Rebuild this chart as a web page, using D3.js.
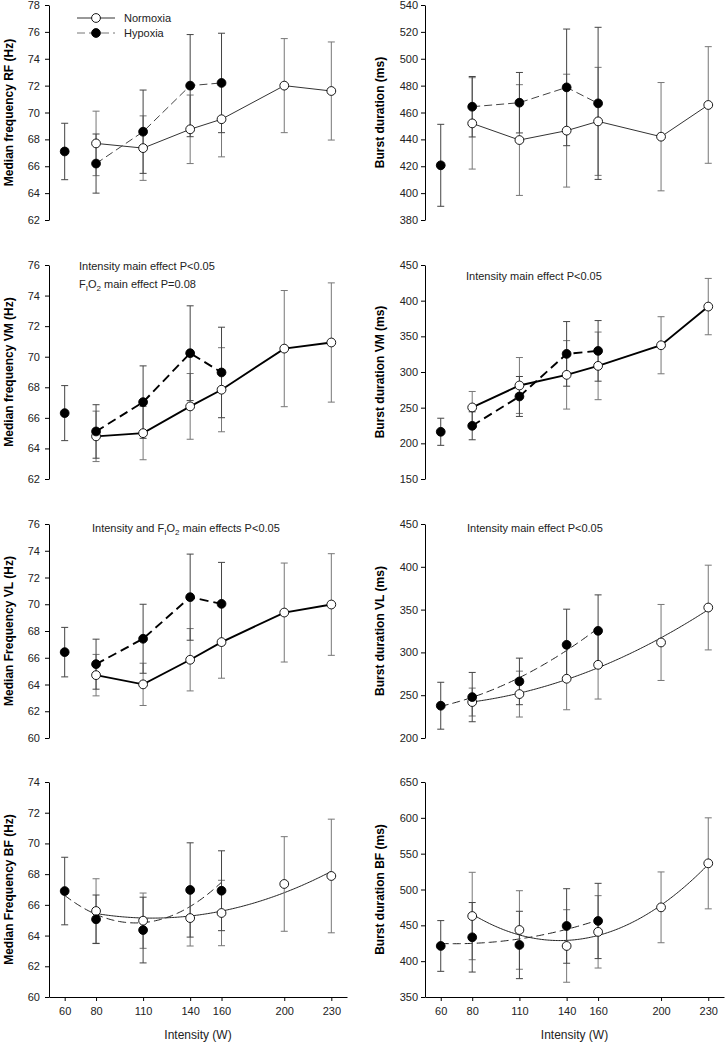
<!DOCTYPE html>
<html>
<head>
<meta charset="utf-8">
<script src="https://cdn.jsdelivr.net/npm/d3@7"></script>
<style>
  body { margin: 0; background: #fff; }
  svg text { font-family: "Liberation Sans", Arial, sans-serif; }
  .axis path, .axis line { stroke: #000; }
</style>
</head>
<body>
<div id="vis"></div>
<script>
// intensities (W)
const hypX = [60, 80, 110, 140, 160];
const normX = [80, 110, 140, 160, 200, 230];
const xTicks = [60, 80, 110, 140, 160, 200, 230];

// RF median frequency (Hz)
const rfHzNorm = [67.7, 67.35, 68.75, 69.5, 72.0, 71.6];
const rfHzNormSd = [2.4, 2.4, 2.55, 2.8, 3.5, 3.65];
const rfHzHyp = [67.1, 66.2, 68.57, 72.0, 72.2];
const rfHzHypSd = [2.1, 2.2, 3.1, 3.8, 3.7];

// RF burst duration (ms)
const rfMsNorm = [451.9, 439.5, 446.5, 453.4, 442.0, 465.6];
const rfMsNormSd = [34, 41.2, 42, 40.2, 40.3, 43.4];
const rfMsHyp = [420.7, 464.3, 467.3, 478.7, 466.8];
const rfMsHypSd = [30.5, 22.5, 22.5, 43.4, 56.6];

// VM median frequency (Hz)
const vmHzNorm = [64.79, 65.0, 66.75, 67.84, 70.53, 70.93];
const vmHzNormSd = [1.65, 1.74, 2.15, 2.75, 3.8, 3.9];
const vmHzHyp = [66.31, 65.11, 67.03, 70.23, 68.97];
const vmHzHypSd = [1.8, 1.75, 2.37, 3.1, 2.96];

// VM burst duration (ms)
const vmMsNorm = [250.3, 281.1, 296, 308.6, 337.5, 391.7];
const vmMsNormSd = [22.4, 39.2, 48, 47.4, 40, 39.5];
const vmMsHyp = [216.2, 224.6, 265.7, 325.4, 329.6];
const vmMsHypSd = [19, 19.6, 28, 45.3, 42.5];

// VL median frequency (Hz)
const vlHzNorm = [64.7, 64.01, 65.85, 67.17, 69.38, 69.98];
const vlHzNormSd = [1.55, 1.58, 2.33, 2.7, 3.7, 3.8];
const vlHzHyp = [66.42, 65.52, 67.42, 70.53, 70.03];
const vlHzHypSd = [1.85, 1.87, 2.58, 3.22, 3.1];

// VL burst duration (ms)
const vlMsNorm = [242, 251.3, 269.2, 285.5, 311.6, 352.4];
const vlMsNormSd = [16.3, 26.8, 36.2, 40, 44.4, 49.5];
const vlMsHyp = [237.7, 247.8, 266.1, 308.9, 325.2];
const vlMsHypSd = [27.4, 28.8, 27.2, 41.6, 42];

// BF median frequency (Hz)
const bfHzNorm = [65.6, 64.97, 65.14, 65.47, 67.36, 67.88];
const bfHzNormSd = [2.1, 1.8, 1.82, 2.13, 3.08, 3.7];
const bfHzHyp = [66.9, 65.06, 64.36, 66.97, 66.92];
const bfHzHypSd = [2.2, 1.58, 2.14, 3.07, 2.6];

// BF burst duration (ms)
const bfMsNorm = [463, 443.5, 421.2, 440.9, 475.1, 536.5];
const bfMsNormSd = [61, 54.8, 50.6, 50.5, 49.4, 63.5];
const bfMsHyp = [421.2, 433.3, 422.6, 449.1, 456.1];
const bfMsHypSd = [35.4, 48.5, 47, 52, 52.5];

const W = 726, H = 1043;
const rows = [[5, 220], [265, 479], [524, 738], [782, 997]];
const cols = [[49, 347], [425, 724]];
const xDomain = [50, 240];

// mode: thin / thick = points joined, fit = quadratic regression line
const panels = [
    { row: 0, col: 0, y: [62, 78], step: 2, label: 'Median frequency RF (Hz)', norm: rfHzNorm, normSd: rfHzNormSd, hyp: rfHzHyp, hypSd: rfHzHypSd, mode: 'thin' },
    { row: 0, col: 1, y: [380, 540], step: 20, label: 'Burst duration (ms)', norm: rfMsNorm, normSd: rfMsNormSd, hyp: rfMsHyp, hypSd: rfMsHypSd, mode: 'thin' },
    { row: 1, col: 0, y: [62, 76], step: 2, label: 'Median frequency VM (Hz)', norm: vmHzNorm, normSd: vmHzNormSd, hyp: vmHzHyp, hypSd: vmHzHypSd, mode: 'thick' },
    { row: 1, col: 1, y: [150, 450], step: 50, label: 'Burst duration VM (ms)', norm: vmMsNorm, normSd: vmMsNormSd, hyp: vmMsHyp, hypSd: vmMsHypSd, mode: 'thick' },
    { row: 2, col: 0, y: [60, 76], step: 2, label: 'Median Frequency VL (Hz)', norm: vlHzNorm, normSd: vlHzNormSd, hyp: vlHzHyp, hypSd: vlHzHypSd, mode: 'thick' },
    { row: 2, col: 1, y: [200, 450], step: 50, label: 'Burst duration VL (ms)', norm: vlMsNorm, normSd: vlMsNormSd, hyp: vlMsHyp, hypSd: vlMsHypSd, mode: 'fit' },
    { row: 3, col: 0, y: [60, 74], step: 2, label: 'Median Frequency BF (Hz)', norm: bfHzNorm, normSd: bfHzNormSd, hyp: bfHzHyp, hypSd: bfHzHypSd, mode: 'fit', xaxis: true },
    { row: 3, col: 1, y: [350, 650], step: 50, label: 'Burst duration BF (ms)', norm: bfMsNorm, normSd: bfMsNormSd, hyp: bfMsHyp, hypSd: bfMsHypSd, mode: 'fit', xaxis: true }
];

const svg = d3.select('#vis').append('svg').attr('width', W).attr('height', H);

// least squares quadratic, returns function
function quadFit(xs, ys) {
    const S = [0, 0, 0, 0, 0], T = [0, 0, 0];
    xs.forEach((x, i) => {
        for (let k = 0; k < 5; k++) S[k] += Math.pow(x, k);
        for (let k = 0; k < 3; k++) T[k] += ys[i] * Math.pow(x, k);
    });
    const A = [[S[0], S[1], S[2], T[0]], [S[1], S[2], S[3], T[1]], [S[2], S[3], S[4], T[2]]];
    for (let i = 0; i < 3; i++) {
        for (let j = i + 1; j < 3; j++) {
            const f = A[j][i] / A[i][i];
            for (let k = i; k < 4; k++) A[j][k] -= f * A[i][k];
        }
    }
    const c = [0, 0, 0];
    for (let i = 2; i >= 0; i--) {
        let s = A[i][3];
        for (let k = i + 1; k < 3; k++) s -= A[i][k] * c[k];
        c[i] = s / A[i][i];
    }
    return x => c[0] + c[1] * x + c[2] * x * x;
}

panels.forEach(p => {
    const [x0, x1] = cols[p.col];
    const [yTop, yBot] = rows[p.row];
    const xs = d3.scaleLinear().domain(xDomain).range([x0, x1]);
    const ys = d3.scaleLinear().domain(p.y).range([yBot, yTop]);
    const g = svg.append('g');

    // y axis
    const yAxis = d3.axisLeft(ys)
        .tickValues(d3.range(p.y[0], p.y[1] + p.step / 2, p.step))
        .tickSize(4).tickSizeOuter(0).tickPadding(p.col === 0 ? 5 : 3)
        .tickFormat(d3.format('d'));
    g.append('g').attr('class', 'axis').attr('transform', `translate(${x0},0)`).call(yAxis)
        .call(a => a.selectAll('text').attr('font-size', 11).attr('fill', '#222'));

    g.append('text')
        .attr('transform', `translate(${p.col === 0 ? 13 : 384},${(yTop + yBot) / 2}) rotate(-90)`)
        .attr('text-anchor', 'middle').attr('font-size', 12).attr('font-weight', 'bold')
        .text(p.label);

    if (p.xaxis) {
        const xAxis = d3.axisBottom(xs).tickValues(xTicks).tickSize(4).tickSizeOuter(0).tickPadding(6);
        g.append('g').attr('class', 'axis').attr('transform', `translate(0,${yBot})`).call(xAxis)
            .call(a => a.selectAll('text').attr('font-size', 11).attr('fill', '#222'));
        g.append('text').attr('x', (x0 + x1) / 2).attr('y', 1039)
            .attr('text-anchor', 'middle').attr('font-size', 12).attr('fill', '#222')
            .text('Intensity (W)');
    }

    const normPts = normX.map((x, i) => ({ x, v: p.norm[i], sd: p.normSd[i] }));
    const hypPts = hypX.map((x, i) => ({ x, v: p.hyp[i], sd: p.hypSd[i] }));

    // lines
    const line = d3.line().x(d => xs(d.x)).y(d => ys(d.v));
    const lw = p.mode === 'thick' ? 1.9 : 1;
    const dash = p.mode === 'thick' ? '9,5' : '8,4';
    if (p.mode === 'fit') {
        [[normPts, null], [hypPts, dash]].forEach(([pts, da]) => {
            const f = quadFit(pts.map(d => d.x), pts.map(d => d.v));
            const xsamp = d3.range(pts[0].x, pts[pts.length - 1].x + 0.01, 1);
            g.append('path')
                .attr('d', line(xsamp.map(x => ({ x, v: f(x) }))))
                .attr('fill', 'none').attr('stroke', '#222').attr('stroke-width', lw)
                .attr('stroke-dasharray', da);
        });
    } else {
        // the 60 W hypoxia point stands alone, the line joins shared intensities only
        const joined = hypPts.filter(d => normX.includes(d.x));
        g.append('path').attr('d', line(normPts)).attr('fill', 'none')
            .attr('stroke', p.mode === 'thick' ? '#000' : '#333').attr('stroke-width', lw);
        g.append('path').attr('d', line(joined)).attr('fill', 'none')
            .attr('stroke', p.mode === 'thick' ? '#000' : '#444').attr('stroke-width', lw)
            .attr('stroke-dasharray', dash);
    }

    // error bars
    const drawErr = (pts, color) => {
        const eg = g.append('g').attr('stroke', color).attr('stroke-width', 1);
        pts.forEach(d => {
            const cx = xs(d.x), t = ys(d.v + d.sd), b = ys(d.v - d.sd);
            eg.append('line').attr('x1', cx).attr('x2', cx).attr('y1', t).attr('y2', b);
            eg.append('line').attr('x1', cx - 3.5).attr('x2', cx + 3.5).attr('y1', t).attr('y2', t);
            eg.append('line').attr('x1', cx - 3.5).attr('x2', cx + 3.5).attr('y1', b).attr('y2', b);
        });
    };
    drawErr(normPts, '#777');
    drawErr(hypPts, '#444');

    // markers
    g.selectAll('circle.norm').data(normPts).join('circle').attr('class', 'norm')
        .attr('cx', d => xs(d.x)).attr('cy', d => ys(d.v)).attr('r', 4.4)
        .attr('fill', '#fff').attr('stroke', '#000').attr('stroke-width', 0.9);
    g.selectAll('circle.hyp').data(hypPts).join('circle').attr('class', 'hyp')
        .attr('cx', d => xs(d.x)).attr('cy', d => ys(d.v)).attr('r', 4.4)
        .attr('fill', '#000').attr('stroke', '#000').attr('stroke-width', 0.9);
});

// legend (top left panel)
const leg = svg.append('g');
[['Normoxia', 18, '#fff', null, '#333'], ['Hypoxia', 33, '#000', '8,4', '#777']].forEach(([name, y, fill, da, col]) => {
    leg.append('line').attr('x1', 77).attr('x2', 115).attr('y1', y).attr('y2', y)
        .attr('stroke', col).attr('stroke-width', 1).attr('stroke-dasharray', da);
    leg.append('circle').attr('cx', 96).attr('cy', y).attr('r', 4.4)
        .attr('fill', fill).attr('stroke', '#000').attr('stroke-width', 0.9);
    leg.append('text').attr('x', 124).attr('y', y + 4).attr('font-size', 11).attr('fill', '#222').text(name);
});

// annotations
function note(x, y, parts) {
    const t = svg.append('text').attr('x', x).attr('y', y).attr('font-size', 11).attr('fill', '#222');
    let sub = false;
    parts.forEach(([s, isSub]) => {
        const dy = isSub && !sub ? 3 : (!isSub && sub ? -3 : 0);
        t.append('tspan').attr('dy', dy).attr('font-size', isSub ? 8 : 11).text(s);
        sub = isSub;
    });
}
note(79, 270, [['Intensity main effect P<0.05', false]]);
note(79, 288, [['F', false], ['I', true], ['O', false], ['2', true], [' main effect P=0.08', false]]);
note(466, 280, [['Intensity main effect P<0.05', false]]);
note(92, 532, [['Intensity and F', false], ['I', true], ['O', false], ['2', true], [' main effects P<0.05', false]]);
note(467, 532, [['Intensity main effect P<0.05', false]]);
</script>
</body>
</html>
